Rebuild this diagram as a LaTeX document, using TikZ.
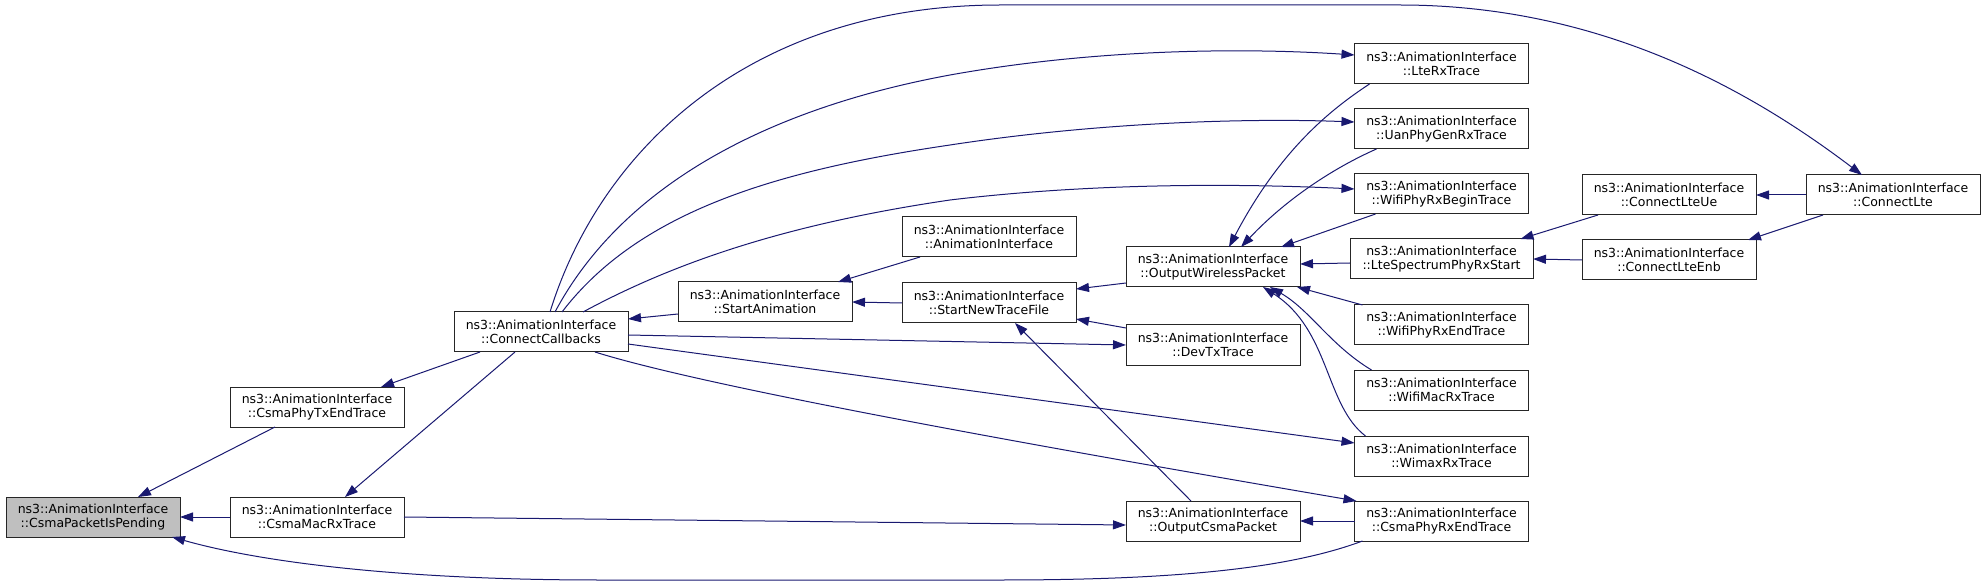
\documentclass[tikz,border=0pt]{standalone}
\usepackage{fontspec}
\setmainfont{DejaVu Sans}
\usepackage{xcolor}
\usetikzlibrary{arrows.meta}

\definecolor{midnight}{RGB}{25,25,112}
\definecolor{boxgray}{RGB}{191,191,191}

\begin{document}
\begin{tikzpicture}[x=1pt,y=-1pt,
    fnbox/.style={draw=black!85, line width=1pt, minimum width=174pt, minimum height=40pt,
      inner sep=0pt, outer sep=0pt, align=center, font=\fontsize{12.5pt}{14.3pt}\selectfont},
    callarrow/.style={draw=midnight, line width=1pt, -{Triangle[length=13pt,width=9pt]}}]
          \useasboundingbox (0,0) rectangle (1987,585);

          % functions
          \node[fnbox, fill=boxgray] (cpip) at (93,517) {ns3::AnimationInterface\\::CsmaPacketIsPending};
          \node[fnbox] (cpte) at (317,407) {ns3::AnimationInterface\\::CsmaPhyTxEndTrace};
          \node[fnbox] (cmr) at (317,517) {ns3::AnimationInterface\\::CsmaMacRxTrace};
          \node[fnbox] (cc) at (541,332) {ns3::AnimationInterface\\::ConnectCallbacks};
          \node[fnbox] (sa) at (765,302) {ns3::AnimationInterface\\::StartAnimation};
          \node[fnbox] (ai) at (989,237) {ns3::AnimationInterface\\::AnimationInterface};
          \node[fnbox] (sntf) at (989,303) {ns3::AnimationInterface\\::StartNewTraceFile};
          \node[fnbox] (owp) at (1213,267) {ns3::AnimationInterface\\::OutputWirelessPacket};
          \node[fnbox] (devtx) at (1213,345) {ns3::AnimationInterface\\::DevTxTrace};
          \node[fnbox] (ocp) at (1213,521) {ns3::AnimationInterface\\::OutputCsmaPacket};
          \node[fnbox] (lterx) at (1441.5,64) {ns3::AnimationInterface\\::LteRxTrace};
          \node[fnbox] (uanrx) at (1441.5,129) {ns3::AnimationInterface\\::UanPhyGenRxTrace};
          \node[fnbox] (wifirxb) at (1441.5,194) {ns3::AnimationInterface\\::WifiPhyRxBeginTrace};
          \node[fnbox, minimum width=183pt] (ltespec) at (1441.5,259) {ns3::AnimationInterface\\::LteSpectrumPhyRxStart};
          \node[fnbox] (wifirxe) at (1441.5,325) {ns3::AnimationInterface\\::WifiPhyRxEndTrace};
          \node[fnbox] (wifimac) at (1441.5,390) {ns3::AnimationInterface\\::WifiMacRxTrace};
          \node[fnbox] (wimax) at (1441.5,456) {ns3::AnimationInterface\\::WimaxRxTrace};
          \node[fnbox] (cpre) at (1441.5,521) {ns3::AnimationInterface\\::CsmaPhyRxEndTrace};
          \node[fnbox] (lteue) at (1669,195) {ns3::AnimationInterface\\::ConnectLteUe};
          \node[fnbox] (lteenb) at (1669,260) {ns3::AnimationInterface\\::ConnectLteEnb};
          \node[fnbox] (lte) at (1893,195) {ns3::AnimationInterface\\::ConnectLte};

          % calls into CsmaPacketIsPending
          \draw[callarrow] ([xshift=-42pt]cpte.south) -- ([xshift=45pt]cpip.north);
          \draw[callarrow] (cmr.west) -- (cpip.east);
          \draw[callarrow] ([xshift=-79pt]cpre.south) .. controls (1290,568) and (1180,580) .. (1000,580)
            -- (600,580) .. controls (400,580) and (260,562) .. ([xshift=-8pt]cpip.south east);

          \draw[callarrow] ([xshift=-61pt]cc.south) -- ([xshift=64pt]cpte.north);
          \draw[callarrow] ([xshift=-26pt]cc.south) -- ([xshift=28pt]cmr.north);
          \draw[callarrow] ([yshift=-12pt]sa.west) -- ([yshift=13pt]cc.east);
          \draw[callarrow] (sntf.west) -- (sa.east);
          \draw[callarrow] ([xshift=-69pt]ai.south) -- ([xshift=73pt]sa.north);
          \draw[callarrow] ([yshift=-16pt]owp.west) -- ([yshift=14pt]sntf.east);
          \draw[callarrow] ([yshift=17pt]devtx.west) -- ([yshift=-16pt]sntf.east);
          \draw[callarrow] ([xshift=-22pt]ocp.north) -- ([xshift=26pt]sntf.south);
          \draw[callarrow] ([yshift=-3pt]cc.east) -- (devtx.west);
          \draw[callarrow] (cmr.east) -- ([yshift=-4pt]ocp.west);
          \draw[callarrow] (cpre.west) -- (ocp.east);
          \draw[callarrow] ([yshift=-12pt]cc.east) -- ([yshift=13pt]wimax.west);
          \draw[callarrow] ([xshift=54pt]cc.south) .. controls (700,385) and (1000,440) .. ([xshift=2pt]cpre.north west);

          % calls into OutputWirelessPacket
          \draw[callarrow] ([xshift=-72pt]lterx.south) .. controls (1330,110) and (1280,150) .. ([xshift=16pt]owp.north);
          \draw[callarrow] ([xshift=-65pt]uanrx.south) .. controls (1340,165) and (1290,195) .. ([xshift=28pt]owp.north);
          \draw[callarrow] ([xshift=-66pt]wifirxb.south) -- ([xshift=68pt]owp.north);
          \draw[callarrow] ([yshift=-4pt]ltespec.west) -- ([yshift=3pt]owp.east);
          \draw[callarrow] ([xshift=-79pt]wifirxe.north) -- ([xshift=84pt]owp.south);
          \draw[callarrow] ([xshift=-70pt]wifimac.north) .. controls (1330,345) and (1310,310) .. ([xshift=57pt]owp.south);
          \draw[callarrow] ([xshift=-76pt]wimax.north) .. controls (1325,405) and (1330,330) .. ([xshift=50pt]owp.south);

          % lte chain
          \draw[callarrow] ([xshift=-71pt]lteue.south) -- ([xshift=79pt]ltespec.north);
          \draw[callarrow] (lteenb.west) -- (ltespec.east);
          \draw[callarrow] (lte.west) -- (lteue.east);
          \draw[callarrow] ([xshift=-70pt]lte.south) -- ([xshift=79pt]lteenb.north);

          % long calls out of ConnectCallbacks
          \draw[callarrow] ([xshift=9pt]cc.north) .. controls (600,150) and (750,5) .. (1000,5)
            -- (1400,5) .. controls (1600,5) and (1750,90) .. ([xshift=-31pt]lte.north);
          \draw[callarrow] ([xshift=14pt]cc.north) .. controls (620,190) and (760,110) .. (950,75)
            .. controls (1100,48) and (1250,48) .. ([yshift=9pt]lterx.west);
          \draw[callarrow] ([xshift=21pt]cc.north) .. controls (640,210) and (780,170) .. (950,145)
            .. controls (1100,122) and (1250,118) .. ([yshift=7pt]uanrx.west);
          \draw[callarrow] ([xshift=42pt]cc.north) .. controls (670,265) and (780,225) .. (950,200)
            .. controls (1100,182) and (1250,184) .. ([yshift=5pt]wifirxb.west);

          \end{tikzpicture}
\end{document}
